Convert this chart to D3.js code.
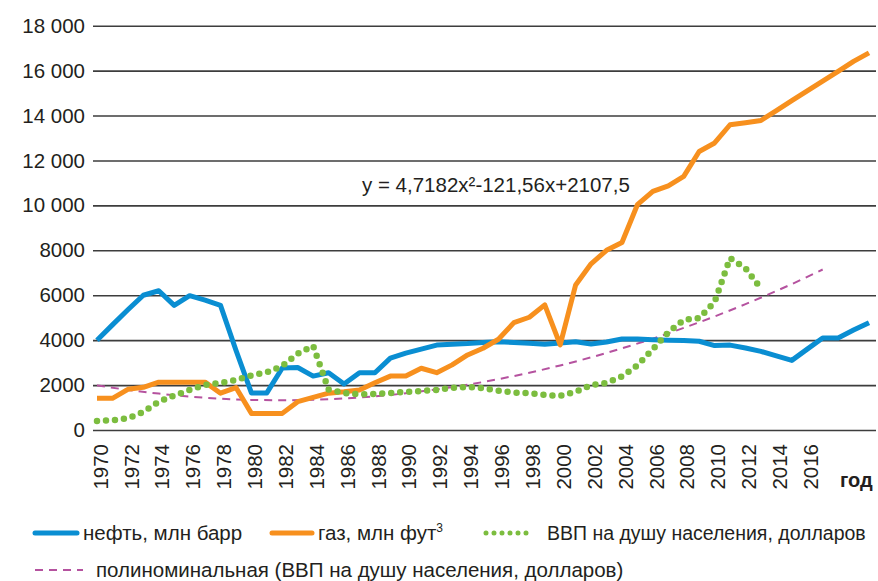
<!DOCTYPE html>
<html>
<head>
<meta charset="utf-8">
<script src="https://cdn.jsdelivr.net/npm/d3@7"></script>
<style>
  body { margin: 0; background: #fff; }
  svg text { font-family: "Liberation Sans", Arial, sans-serif; fill: #231f20; }
</style>
</head>
<body>
<div id="viz"></div>
<script>
// years on the x axis
const years = d3.range(1970, 2021);
const tickYears = d3.range(1970, 2017, 2);
const yTicks = [0, 2000, 4000, 6000, 8000, 10000, 12000, 14000, 16000, 18000];

// нефть, млн барр (1970..2020)
const oil = [4000, 4680, 5350, 6000, 6200, 5550, 5980, 5780, 5550, 3550,
  1650, 1650, 2760, 2780, 2400, 2550, 2050, 2550, 2550, 3200,
  3420, 3600, 3780, 3820, 3850, 3900, 3930, 3900, 3860, 3820,
  3870, 3930, 3830, 3920, 4050, 4050, 4020, 4000, 3980, 3950,
  3760, 3780, 3650, 3500, 3300, 3100, 3600, 4100, 4100, 4450, 4780];

// газ, млн фут3 (1970..2020)
const gas = [1410, 1410, 1810, 1900, 2130, 2130, 2130, 2130, 1640, 1890,
  740, 740, 740, 1260, 1450, 1640, 1700, 1780, 2100, 2400,
  2400, 2750, 2550, 2900, 3340, 3640, 4040, 4780, 5020, 5570,
  3790, 6460, 7400, 8000, 8350, 10030, 10620, 10870, 11290, 12400,
  12780, 13590, 13680, 13780, 14220, 14660, 15100, 15530, 15970, 16410, 16790];

// ВВП на душу населения, долларов (1970..2013)
const gdp = [400, 430, 520, 800, 1260, 1530, 1780, 2005, 2100, 2220,
  2430, 2570, 2850, 3400, 3750, 1800, 1650, 1580, 1600, 1650,
  1690, 1740, 1780, 1880, 1920, 1860, 1750, 1670, 1635, 1560,
  1520, 1700, 2000, 2100, 2380, 2880, 3600, 4350, 4900, 4980,
  5700, 7650, 7200, 6300];

// полиноминальная trend
const trendYears = d3.range(1970, 2017, 2).concat([2017]);
const trend = [1990, 1785, 1620, 1490, 1395, 1340, 1325, 1345, 1405, 1500,
  1635, 1810, 2015, 2265, 2550, 2875, 3235, 3635, 4070, 4545,
  5055, 5605, 6190, 6815, 7145];

const equation = "y = 4,7182x²-121,56x+2107,5";

const W = 878, H = 581;
const svg = d3.select("#viz").append("svg")
    .attr("width", W)
    .attr("height", H);

const x = d3.scaleLinear().domain([1970, 2020]).range([97, 869]);
const y = d3.scaleLinear().domain([0, 18000]).range([430, 25.7]);

// Y grid + labels
const fmt = v => v >= 10000 ? d3.format(",")(v).replace(",", " ") : String(v);
const yAxis = svg.append("g")
    .attr("transform", "translate(93,0)")
    .call(d3.axisLeft(y).tickValues(yTicks).tickSize(-783).tickPadding(8).tickFormat(fmt));
yAxis.select(".domain").remove();
yAxis.selectAll("line").attr("stroke", "#3d3d3d").attr("stroke-width", 1.6).attr("x1", 0);
yAxis.selectAll("text").style("font-size", "20.5px");

// X labels
const xAxis = svg.append("g")
    .attr("transform", "translate(0,430)")
    .call(d3.axisBottom(x).tickValues(tickYears).tickSize(0).tickFormat(d3.format("d")));
xAxis.select(".domain").remove();
xAxis.selectAll("text")
    .attr("transform", "rotate(-90)")
    .attr("text-anchor", "end")
    .attr("x", -14)
    .attr("y", 3)
    .attr("dy", "0.35em")
    .style("font-size", "20.5px");

svg.append("text")
    .attr("x", 840).attr("y", 487)
    .style("font-size", "20px").style("font-weight", "bold")
    .text("год");

// lines
const line = (xs, vs) => d3.line().x((d, i) => x(xs[i])).y(d => y(d))(vs);

svg.append("path")
    .attr("d", d3.line().x((d, i) => x(trendYears[i])).y(d => y(d)).curve(d3.curveMonotoneX)(trend))
    .attr("fill", "none").attr("stroke", "#b5529f").attr("stroke-width", 2)
    .attr("stroke-dasharray", "8 6");

svg.append("path")
    .attr("d", line(years, oil))
    .attr("fill", "none").attr("stroke", "#0a8ed2").attr("stroke-width", 5)
    .attr("stroke-linejoin", "round");

svg.append("path")
    .attr("d", line(years, gas))
    .attr("fill", "none").attr("stroke", "#f7901e").attr("stroke-width", 5)
    .attr("stroke-linejoin", "round");

svg.append("path")
    .attr("d", line(years, gdp))
    .attr("fill", "none").attr("stroke", "#7cbd3f").attr("stroke-width", 6.5)
    .attr("stroke-linecap", "round").attr("stroke-dasharray", "0 9");

// equation
svg.append("text")
    .attr("x", 362).attr("y", 192)
    .style("font-size", "20.5px")
    .text(equation);

// legend
const legend = [
  {label: "нефть, млн барр", color: "#0a8ed2", x: 35, y: 533, len: 42, type: "solid", fs: 20.5},
  {label: "газ, млн фут", sup: "3", color: "#f7901e", x: 272, y: 533, len: 40, type: "solid", fs: 20.5},
  {label: "ВВП на душу населения, долларов", color: "#7cbd3f", x: 486, y: 533, len: 46, type: "dots", fs: 19.5},
  {label: "полиноминальная (ВВП на душу населения, долларов)", color: "#b5529f", x: 35, y: 570, len: 48, type: "dash", fs: 20.5}
];
const lg = svg.append("g").selectAll("g").data(legend).join("g");
lg.append("line")
    .attr("x1", d => d.x).attr("x2", d => d.x + d.len)
    .attr("y1", d => d.y).attr("y2", d => d.y)
    .attr("stroke", d => d.color)
    .attr("stroke-width", d => d.type === "solid" ? 5 : d.type === "dots" ? 5 : 2)
    .attr("stroke-linecap", d => d.type === "dash" ? "butt" : "round")
    .attr("stroke-dasharray", d => d.type === "dots" ? "0 8" : d.type === "dash" ? "8 6" : null);
const lt = lg.append("text")
    .attr("x", d => d.x + d.len + (d.type === "solid" ? 6 : d.type === "dots" ? 15 : 13))
    .attr("y", d => d.y + 7)
    .style("font-size", d => d.fs + "px")
    .text(d => d.label);
lt.filter(d => d.sup).append("tspan")
    .attr("dy", -8).style("font-size", "12px")
    .text(d => d.sup);
</script>
</body>
</html>
